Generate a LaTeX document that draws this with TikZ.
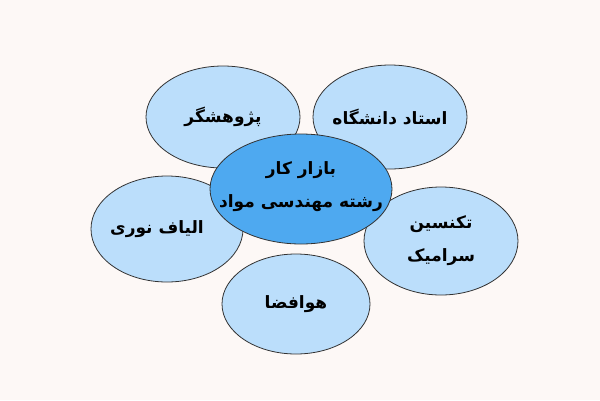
\documentclass[tikz,border=0pt]{standalone}
\usepackage{fontspec}
\usetikzlibrary{shapes.geometric}
\newfontfamily\arabicfont[Script=Arabic]{DejaVu Sans}
\TeXXeTstate=1
\definecolor{bgc}{HTML}{FDF8F6}
\definecolor{outerc}{HTML}{BBDEFB}
\definecolor{centerc}{HTML}{4EA9F0}
\definecolor{linec}{HTML}{333333}
\begin{document}
\begin{tikzpicture}[x=1pt,y=-1pt,
  bubble/.style={ellipse,draw=linec,line width=0.8pt,fill=outerc,inner sep=0pt},
  hub/.style={bubble,fill=centerc},
  txt/.style={font=\arabicfont\bfseries\fontsize{17}{33}\selectfont,align=center,inner sep=0pt}]
\fill[bgc] (0,0) rectangle (600,400);
\useasboundingbox (0,0) rectangle (600,400);
\node[bubble,minimum width=154pt,minimum height=102pt] (p) at (223,117) {};
\node[bubble,minimum width=154pt,minimum height=104pt] (o) at (390,117) {};
\node[bubble,minimum width=152pt,minimum height=106pt] (l) at (167,229) {};
\node[bubble,minimum width=154pt,minimum height=108pt] (t) at (441,241) {};
\node[bubble,minimum width=148pt,minimum height=100pt] (h) at (296,304) {};
\node[hub,minimum width=182pt,minimum height=110pt] (c) at (301,189) {};
\node[txt] (pt) at (p.center) {\beginR پژوهشگر\endR};
\node[txt] (ot) at (o.center) {\beginR استاد دانشگاه\endR};
\node[txt] (lt) at ([xshift=-10pt]l.center) {\beginR الیاف نوری\endR};
\node[txt] (tt) at (t.center) {\beginR تکنسین\endR\\\beginR سرامیک\endR};
\node[txt] (ht) at (h.center) {\beginR هوافضا\endR};
\node[txt] (ct) at ([yshift=2pt]c.center) {\beginR بازار کار\endR\\\beginR رشته مهندسی مواد\endR};
\end{tikzpicture}
\end{document}
